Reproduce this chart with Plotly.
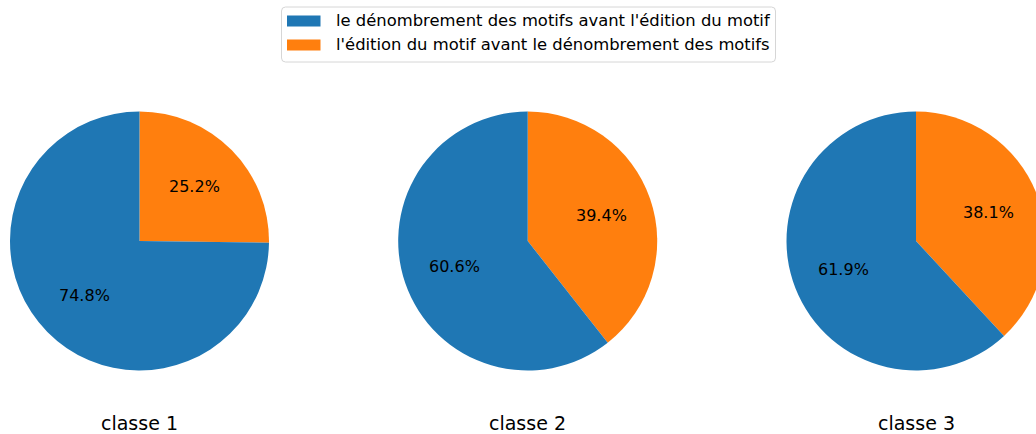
import math
import plotly.graph_objects as go

# Share of each ordering strategy per class (percent)
classes = ["classe 1", "classe 2", "classe 3"]
series_names = [
    "le dénombrement des motifs avant l'édition du motif",
    "l'édition du motif avant le dénombrement des motifs",
]
counting_first = [74.8, 60.6, 61.9]
editing_first = [25.2, 39.4, 38.1]
colors = ["#1f77b4", "#ff7f0e"]

# Canvas geometry (pixels); the third pie runs past the right edge of the view
W, H = 1056, 434
centers_x = [139.5, 527.7, 916.0]
center_y = 241.0
radius = 129.5


def px(x):
    return x / W


def py(y):
    return 1 - y / H


fig = go.Figure()
annotations = []
shapes = []

for i, name in enumerate(classes):
    cx = centers_x[i]
    vals = [counting_first[i], editing_first[i]]
    # wedges drawn clockwise from 12 o'clock: editing-first, then counting-first
    fig.add_trace(go.Pie(
        values=vals[::-1],
        labels=series_names[::-1],
        marker=dict(colors=colors[::-1], line=dict(width=0)),
        sort=False,
        direction="clockwise",
        rotation=0,
        textinfo="none",
        hoverinfo="label+percent",
        showlegend=False,
        domain=dict(x=[px(cx - radius), px(cx + radius)],
                    y=[py(center_y + radius), py(center_y - radius)]),
    ))

    # percentage labels at 0.6 of the radius, on each wedge's bisector
    total = sum(vals)
    start = 90.0
    for v in vals:
        span = 360.0 * v / total
        mid = math.radians(start + span / 2)
        lx = cx + 0.6 * radius * math.cos(mid)
        ly = center_y - 0.6 * radius * math.sin(mid)
        annotations.append(dict(
            x=px(lx), y=py(ly), xref="paper", yref="paper",
            text=f"{100 * v / total:.1f}%", showarrow=False,
            xanchor="center", yanchor="middle",
            font=dict(family="DejaVu Sans", size=16, color="#000000"),
        ))
        start += span

    # class title under each pie
    annotations.append(dict(
        x=px(cx), y=py(423), xref="paper", yref="paper",
        text=name, showarrow=False, xanchor="center", yanchor="middle",
        font=dict(family="DejaVu Sans", size=19, color="#000000"),
    ))

# Legend frame with rounded corners
bx0, bx1, by0, by1, rr = 281.5, 775.5, 7.0, 62.0, 4.0
path = (
    f"M {px(bx0 + rr)} {py(by0)} L {px(bx1 - rr)} {py(by0)} "
    f"Q {px(bx1)} {py(by0)} {px(bx1)} {py(by0 + rr)} "
    f"L {px(bx1)} {py(by1 - rr)} "
    f"Q {px(bx1)} {py(by1)} {px(bx1 - rr)} {py(by1)} "
    f"L {px(bx0 + rr)} {py(by1)} "
    f"Q {px(bx0)} {py(by1)} {px(bx0)} {py(by1 - rr)} "
    f"L {px(bx0)} {py(by0 + rr)} "
    f"Q {px(bx0)} {py(by0)} {px(bx0 + rr)} {py(by0)} Z"
)
shapes.append(dict(type="path", path=path, xref="paper", yref="paper",
                   line=dict(color="#d6d6d6", width=1), fillcolor="white"))

row_centers = [21.0, 45.0]
for name, col, rc in zip(series_names, colors, row_centers):
    shapes.append(dict(type="rect", xref="paper", yref="paper",
                       x0=px(287.0), x1=px(320.5),
                       y0=py(rc - 5.5), y1=py(rc + 5.5),
                       fillcolor=col, line=dict(width=0)))
    annotations.append(dict(
        x=px(333.5), y=py(rc), xref="paper", yref="paper",
        text=name, showarrow=False, xanchor="left", yanchor="middle",
        font=dict(family="DejaVu Sans", size=16.4, color="#000000"),
    ))

fig.update_layout(
    width=W, height=H,
    margin=dict(l=0, r=0, t=0, b=0),
    paper_bgcolor="white",
    plot_bgcolor="white",
    showlegend=False,
    annotations=annotations,
    shapes=shapes,
)

fig.write_html(
    "out.html",
    post_script="document.documentElement.style.overflow='hidden';"
                "document.body.style.overflow='hidden';"
                "document.body.style.margin='0';",
)
